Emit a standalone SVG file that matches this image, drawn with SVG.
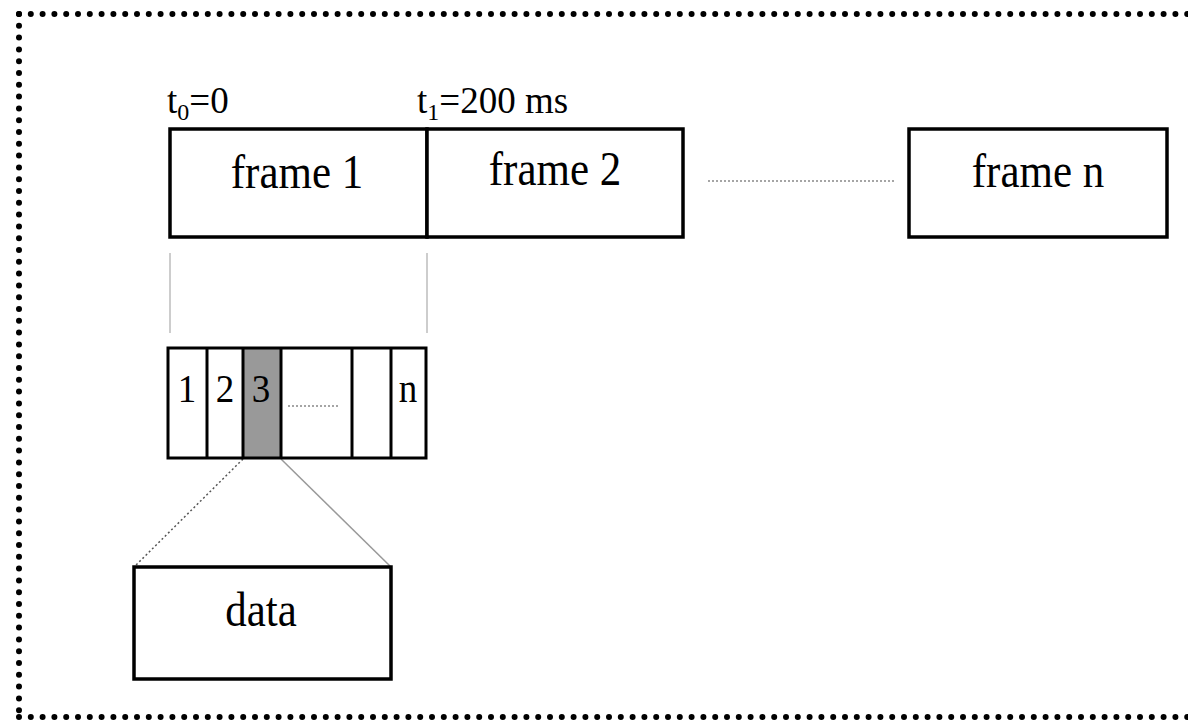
<svg xmlns="http://www.w3.org/2000/svg" width="1188" height="721" viewBox="0 0 1188 721">
<style>
.box{fill:#fff;stroke:#000;stroke-width:3.5}
.cell{fill:none;stroke:#000;stroke-width:3}
.lbl{font-family:"Liberation Serif","Times New Roman",serif;fill:#000}
.big{font-size:43px}
.mid{font-size:37px}
.small{font-size:37px}
.border{fill:none;stroke:#000;stroke-width:6;stroke-linecap:round;stroke-dasharray:0 11.8}
.guide{stroke:#bdbdbd;stroke-width:1.5;fill:none}
.dots{stroke:#888;stroke-width:1.5;stroke-dasharray:2 2;fill:none}
</style>
<rect x="0" y="0" width="1188" height="721" fill="#fff"/>
<g id="border">
<line class="border" x1="19" y1="14" x2="1195" y2="14"/>
<line class="border" x1="19" y1="14" x2="19" y2="717"/>
<line class="border" x1="19" y1="717" x2="1195" y2="717"/>
</g>
<g id="labels">
<text class="lbl mid" x="167" y="113">t<tspan font-size="24" dy="7">0</tspan><tspan dy="-7">=0</tspan></text>
<text class="lbl mid" x="417" y="113">t<tspan font-size="24" dy="7">1</tspan><tspan dy="-7">=200 ms</tspan></text>
</g>
<g id="connectors">
<line class="dots" x1="708" y1="181" x2="896" y2="181"/>
<line class="guide" x1="170" y1="253" x2="170" y2="333"/>
<line class="guide" x1="427" y1="253" x2="427" y2="333"/>
<line x1="243" y1="459" x2="134" y2="567" stroke="#555" stroke-width="1.5" stroke-dasharray="2 2.5"/>
<line x1="281" y1="459" x2="391" y2="567" stroke="#999" stroke-width="1.5"/>
</g>
<g id="frame1">
<rect class="box" x="170" y="129" width="257" height="108"/>
<text class="lbl big" text-anchor="middle" transform="translate(297 188) scale(1 1.15)">frame 1</text>
</g>
<g id="frame2">
<rect class="box" x="427" y="129" width="256" height="108"/>
<text class="lbl big" text-anchor="middle" transform="translate(555 185) scale(1 1.15)">frame 2</text>
</g>
<g id="framen">
<rect class="box" x="909" y="129" width="258" height="108"/>
<text class="lbl big" text-anchor="middle" transform="translate(1038 187) scale(1 1.15)">frame n</text>
</g>
<g id="slots">
<rect x="243" y="348" width="38" height="110" fill="#999"/>
<rect class="cell" x="168" y="348" width="258" height="110"/>
<line class="cell" x1="207" y1="348" x2="207" y2="458"/>
<line class="cell" x1="243" y1="348" x2="243" y2="458"/>
<line class="cell" x1="281" y1="348" x2="281" y2="458"/>
<line class="cell" x1="352" y1="348" x2="352" y2="458"/>
<line class="cell" x1="391" y1="348" x2="391" y2="458"/>
<text class="lbl small" text-anchor="middle" transform="translate(187 402) scale(1 1.1)">1</text>
<text class="lbl small" text-anchor="middle" transform="translate(225 402) scale(1 1.1)">2</text>
<text class="lbl small" text-anchor="middle" transform="translate(261 402) scale(1 1.1)">3</text>
<line class="dots" x1="288" y1="406" x2="340" y2="406"/>
<text class="lbl small" text-anchor="middle" transform="translate(408 402) scale(1 1.1)">n</text>
</g>
<g id="data">
<rect class="box" x="134" y="567" width="257" height="112"/>
<text class="lbl big" text-anchor="middle" transform="translate(261 626) scale(1 1.15)">data</text>
</g>
</svg>
